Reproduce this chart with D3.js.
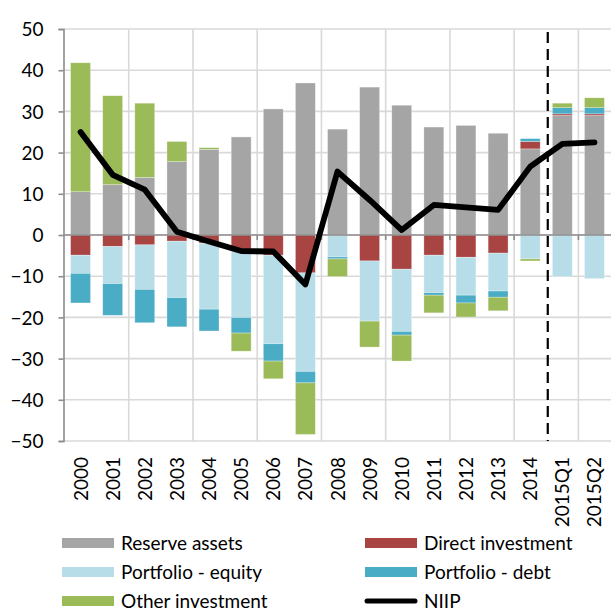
<!DOCTYPE html>
<html><head><meta charset="utf-8">
<script src="https://cdn.jsdelivr.net/npm/d3@7"></script>
<style>
body{margin:0;background:#fff;}
text{font-family:Lato,"Open Sans",sans-serif;fill:#000;}
</style></head>
<body><svg id="c" width="611" height="612"></svg>
<script>
const categories = ["2000","2001","2002","2003","2004","2005","2006","2007","2008","2009","2010","2011","2012","2013","2014","2015Q1","2015Q2"];
const reserveAssets = [10.5,12.2,14.0,17.8,20.8,23.8,30.6,36.9,25.7,35.9,31.5,26.2,26.6,24.7,20.9,29.0,29.0];
const directInvestment = [-4.9,-2.8,-2.4,-1.5,-2.0,-4.0,-4.9,-9.2,0,-6.3,-8.3,-4.9,-5.4,-4.4,1.8,0.4,0.4];
const portfolioEquity = [-4.4,-9.0,-10.8,-13.7,-16.0,-16.0,-21.5,-23.9,-5.3,-14.6,-15.1,-9.1,-9.2,-9.2,-5.8,-10.1,-10.6];
const portfolioDebt = [-7.2,-7.7,-8.1,-7.1,-5.3,-3.8,-4.2,-2.8,-0.5,0,-0.9,-0.6,-1.9,-1.5,0.7,1.5,1.5];
const otherInvestment = [31.3,21.6,18.0,4.9,0.4,-4.4,-4.3,-12.5,-4.3,-6.3,-6.3,-4.3,-3.4,-3.3,-0.5,1.1,2.4];
const niip = [25.0,14.6,11.0,0.8,-1.6,-3.9,-4.0,-12.0,15.4,8.5,1.2,7.3,6.7,6.1,16.6,22.1,22.5];
const yTicks = [50,40,30,20,10,0,-10,-20,-30,-40,-50];
const seriesNames = ["Reserve assets","Direct investment","Portfolio - equity","Portfolio - debt","Other investment"];
const seriesColors = ["#a5a5a5","#a84543","#b7dee8","#4bacc6","#9bbb59"];

const svg = d3.select("#c");
const L = 64.5, R = 610.5, T = 29, B = 441;
const x = d3.scaleBand().domain(categories).range([L, R]).padding(0);
const y = d3.scaleLinear().domain([-50, 50]).range([B, T]);
const bw = x.step();
const barW = bw * 0.62;

const seriesArrays = [reserveAssets, directInvestment, portfolioEquity, portfolioDebt, otherInvestment];
const table = categories.map((c, i) => {
  const o = {cat: c};
  seriesNames.forEach((n, k) => o[n] = seriesArrays[k][i]);
  return o;
});
const stack = d3.stack().keys(seriesNames).offset(d3.stackOffsetDiverging);
const stacked = stack(table);

// gridlines
const grid = svg.append("g");
grid.selectAll("line.h").data(yTicks).join("line")
  .attr("x1", L - 1).attr("x2", 611).attr("y1", d => y(d)).attr("y2", d => y(d))
  .attr("stroke", "#d9d9d9").attr("stroke-width", 1.6);
const vIdx = categories.map((c, i) => i).filter(i => i > 0 && i % 2 === 0);
grid.selectAll("line.v").data(vIdx).join("line")
  .attr("x1", i => x(categories[i])).attr("x2", i => x(categories[i]))
  .attr("y1", T).attr("y2", B)
  .attr("stroke", "#d9d9d9").attr("stroke-width", 1.6);

// bars
svg.append("g").selectAll("g").data(stacked).join("g")
  .attr("fill", (d, k) => seriesColors[k])
  .selectAll("rect").data(d => d).join("rect")
  .attr("x", d => x(d.data.cat) + (bw - barW) / 2)
  .attr("width", barW)
  .attr("y", d => y(Math.max(d[0], d[1])))
  .attr("height", d => Math.abs(y(d[0]) - y(d[1])))
  .attr("stroke", "#ffffff").attr("stroke-opacity", 0.5).attr("stroke-width", 0.6);

// zero axis line with ticks
svg.append("line").attr("x1", L - 1).attr("x2", 611).attr("y1", y(0)).attr("y2", y(0))
  .attr("stroke", "#8c8c8c").attr("stroke-width", 1.6);
svg.append("g").selectAll("line").data(vIdx).join("line")
  .attr("x1", i => x(categories[i])).attr("x2", i => x(categories[i]))
  .attr("y1", y(0)).attr("y2", y(0) + 5)
  .attr("stroke", "#8c8c8c").attr("stroke-width", 1.6);

// left axis
const yAxis = d3.axisLeft(y).tickValues(yTicks).tickSize(5).tickFormat(d3.format("d"));
const ya = svg.append("g").attr("transform", `translate(${L - 1},0)`).call(yAxis);
ya.select(".domain").attr("stroke", "#8c8c8c").attr("stroke-width", 1.6);
ya.selectAll(".tick line").attr("stroke", "#8c8c8c").attr("stroke-width", 1.6);
ya.selectAll(".tick text").attr("x", -20).attr("dy", "0.35em")
  .style("font-family", "Lato").style("font-size", "19px").attr("fill", "#000");

// x labels
svg.append("g").selectAll("text").data(categories).join("text")
  .attr("transform", d => `translate(${x(d) + bw / 2 + 7},457) rotate(-90)`)
  .attr("text-anchor", "end")
  .style("font-size", "19px")
  .text(d => d);

// dashed separator
const sepX = x("2015Q1") + 1.5;
svg.append("line").attr("x1", sepX).attr("x2", sepX).attr("y1", 32).attr("y2", B)
  .attr("stroke", "#000").attr("stroke-width", 2.2).attr("stroke-dasharray", "11,6");

// NIIP line
const line = d3.line().x((d, i) => x(categories[i]) + bw / 2).y(d => y(d));
svg.append("path").datum(niip).attr("d", line)
  .attr("fill", "none").attr("stroke", "#000").attr("stroke-width", 5.8)
  .attr("stroke-linejoin", "round").attr("stroke-linecap", "round");

// legend
const legendItems = [
  {name: "Reserve assets", color: seriesColors[0], col: 0, row: 0},
  {name: "Direct investment", color: seriesColors[1], col: 1, row: 0},
  {name: "Portfolio - equity", color: seriesColors[2], col: 0, row: 1},
  {name: "Portfolio - debt", color: seriesColors[3], col: 1, row: 1},
  {name: "Other investment", color: seriesColors[4], col: 0, row: 2},
  {name: "NIIP", color: "#000", col: 1, row: 2, line: true}
];
const colX = [62, 365], rowY = [543, 572, 601];
const lg = svg.append("g");
legendItems.forEach(it => {
  const gx = colX[it.col], gy = rowY[it.row];
  if (it.line) {
    lg.append("line").attr("x1", gx + 2).attr("x2", gx + 50).attr("y1", gy).attr("y2", gy)
      .attr("stroke", "#000").attr("stroke-width", 5).attr("stroke-linecap", "round");
  } else {
    lg.append("rect").attr("x", gx).attr("y", gy - 5).attr("width", 52).attr("height", 10).attr("fill", it.color);
  }
  lg.append("text").attr("x", gx + 59).attr("y", gy).attr("dy", "0.36em")
    .style("font-size", "19px").text(it.name);
});
</script></body></html>
